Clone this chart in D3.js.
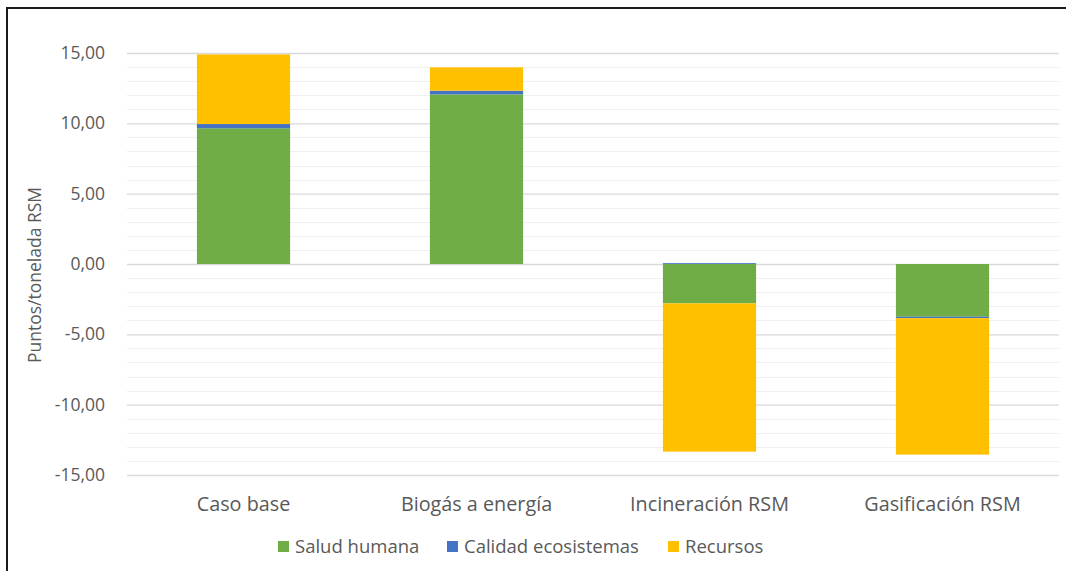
<!DOCTYPE html>
<html>
<head>
<meta charset="utf-8">
<script src="https://cdn.jsdelivr.net/npm/d3@7"></script>
<style>
  html, body { margin: 0; padding: 0; background: #fff; }
  svg { display: block; }
  text { font-family: "Open Sans", "Liberation Sans", sans-serif; fill: #595959; }
</style>
</head>
<body>
<svg id="chart" width="1066" height="571"></svg>
<script>
// Impact scores per scenario (points per tonne of MSW)
const categories = ["Caso base", "Biogás a energía", "Incineración RSM", "Gasificación RSM"];
const seriesNames = ["Salud humana", "Calidad ecosistemas", "Recursos"];
const saludHumana = [9.65, 12.06, -2.80, -3.75];
const calidadEcosistemas = [0.30, 0.26, 0.06, -0.10];
const recursos = [4.95, 1.66, -10.54, -9.70];
const majorTicks = [15, 10, 5, 0, -5, -10, -15];
const colors = ["#70AD47", "#4472C4", "#FFC000"];

const rows = categories.map((c, i) => ({
  cat: c,
  "Salud humana": saludHumana[i],
  "Calidad ecosistemas": calidadEcosistemas[i],
  "Recursos": recursos[i]
}));

const svg = d3.select("#chart");
const W = 1066, H = 571;
const plot = { left: 127, right: 1059, top: 53, bottom: 475 };

// frame around the chart area
svg.append("rect")
  .attr("x", 7).attr("y", 8)
  .attr("width", W + 10).attr("height", H + 10)
  .attr("fill", "none").attr("stroke", "#1a1a1a").attr("stroke-width", 2);

const x = d3.scaleBand().domain(categories).range([plot.left, plot.right]).paddingInner(0.6).paddingOuter(0.3);
const y = d3.scaleLinear().domain([-15, 15]).range([plot.bottom, plot.top]);

// minor gridlines every unit
svg.append("g").selectAll("line")
  .data(d3.range(-15, 16, 1).filter(v => v % 5 !== 0))
  .join("line")
  .attr("x1", plot.left).attr("x2", plot.right)
  .attr("y1", d => Math.round(y(d)) + 0.5).attr("y2", d => Math.round(y(d)) + 0.5)
  .attr("stroke", "#efefef").attr("stroke-width", 1);

// major gridlines + tick labels via axis
const fmt = d => d3.format(".2f")(d).replace(".", ",").replace("\u2212", "-");
const yAxis = d3.axisLeft(y)
  .tickValues(majorTicks)
  .tickFormat(fmt)
  .tickSize(-(plot.right - plot.left))
  .tickPadding(22);

const gy = svg.append("g").attr("transform", `translate(${plot.left},0)`).call(yAxis);
gy.select(".domain").remove();
gy.selectAll(".tick line").attr("stroke", "#d9d9d9").attr("stroke-width", 1.3);
gy.selectAll(".tick text").attr("font-size", 17.5).style("fill", "#595959")
  .style("font-family", "'Open Sans', sans-serif");

// stacked bars, positives upward and negatives downward
const stack = d3.stack().keys(seriesNames).offset(d3.stackOffsetDiverging);
const layers = stack(rows);

svg.append("g").selectAll("g")
  .data(layers)
  .join("g")
  .attr("fill", (d, i) => colors[i])
  .selectAll("rect")
  .data(d => d)
  .join("rect")
  .attr("x", d => x(d.data.cat))
  .attr("width", x.bandwidth())
  .attr("y", d => y(Math.max(d[0], d[1])))
  .attr("height", d => Math.abs(y(d[0]) - y(d[1])));

// category labels
const xAxis = d3.axisBottom(x).tickSize(0).tickPadding(0);
const gx = svg.append("g").attr("transform", `translate(0,${plot.bottom + 22})`).call(xAxis);
gx.select(".domain").remove();
gx.selectAll(".tick text").attr("font-size", 19.8).attr("dy", "0.71em")
  .style("fill", "#595959").style("font-family", "'Open Sans', sans-serif");

// y axis title
svg.append("text")
  .attr("transform", `translate(41,${(plot.top + plot.bottom) / 2 + 11}) rotate(-90)`)
  .attr("text-anchor", "middle")
  .attr("font-size", 17.5)
  .text("Puntos/tonelada RSM");

// legend
const legendItems = [
  { name: seriesNames[0], color: colors[0], x: 278 },
  { name: seriesNames[1], color: colors[1], x: 447 },
  { name: seriesNames[2], color: colors[2], x: 668 }
];
const lg = svg.append("g").selectAll("g").data(legendItems).join("g")
  .attr("transform", d => `translate(${d.x},541)`);
lg.append("rect").attr("width", 11).attr("height", 11).attr("fill", d => d.color);
lg.append("text").attr("x", 17).attr("y", 5.5).attr("dy", "0.35em")
  .attr("font-size", 18.5).text(d => d.name);
</script>
</body>
</html>
